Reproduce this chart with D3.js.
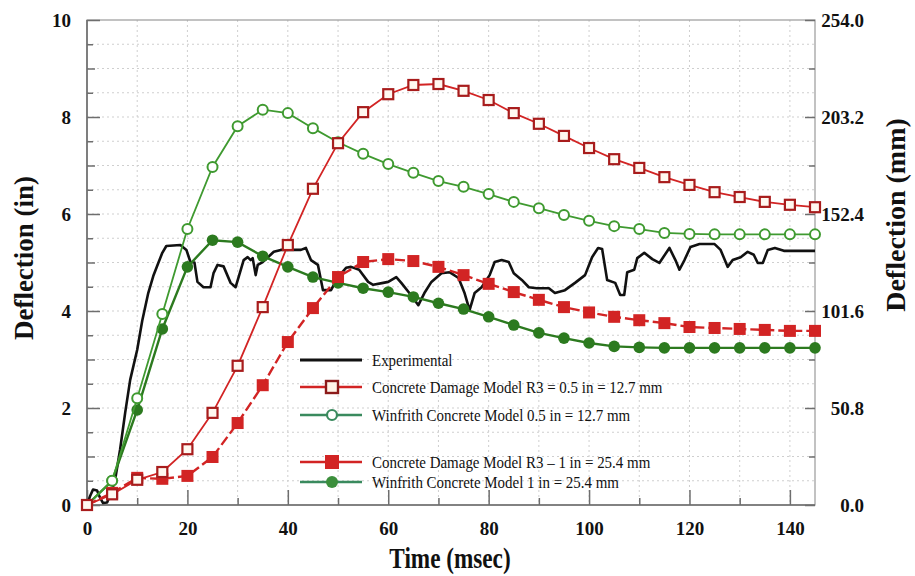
<!DOCTYPE html>
<html>
<head>
<meta charset="utf-8">
<script src="https://cdn.jsdelivr.net/npm/d3@7"></script>
<style>
  html, body { margin: 0; padding: 0; background: #fff; }
  svg { display: block; font-family: "Liberation Serif", "Times New Roman", serif; }
</style>
</head>
<body>
<svg id="chart" width="915" height="576"></svg>
<script>
// Simulation output times (msec)
const simTime = [0, 5, 10, 15, 20, 25, 30, 35, 40, 45, 50, 55, 60, 65, 70, 75, 80, 85, 90, 95,
                 100, 105, 110, 115, 120, 125, 130, 135, 140, 145];

// Mid-span deflection (in) for each model
const cdmHalfInch = [0, 0.22, 0.52, 0.68, 1.15, 1.9, 2.87, 4.08, 5.36, 6.52, 7.46, 8.10, 8.47, 8.66, 8.68,
                     8.54, 8.35, 8.08, 7.86, 7.61, 7.36, 7.13, 6.95, 6.76, 6.60, 6.45, 6.35, 6.25, 6.19, 6.14];
const winHalfInch = [0, 0.5, 2.2, 3.94, 5.69, 6.97, 7.81, 8.15, 8.08, 7.77, 7.48, 7.24, 7.03, 6.85, 6.68,
                     6.56, 6.41, 6.25, 6.12, 5.98, 5.86, 5.75, 5.69, 5.61, 5.59, 5.58, 5.58, 5.58, 5.58, 5.58];
const cdmOneInch  = [0, 0.25, 0.56, 0.54, 0.6, 0.99, 1.69, 2.47, 3.36, 4.06, 4.7, 5.01, 5.07, 5.03, 4.91,
                     4.74, 4.56, 4.39, 4.23, 4.08, 3.97, 3.88, 3.81, 3.75, 3.67, 3.65, 3.63, 3.61, 3.59, 3.59];
const winOneInch  = [0, 0.5, 1.96, 3.63, 4.91, 5.46, 5.42, 5.13, 4.91, 4.70, 4.58, 4.47, 4.39, 4.29, 4.16,
                     4.04, 3.88, 3.71, 3.55, 3.44, 3.34, 3.27, 3.25, 3.24, 3.24, 3.24, 3.24, 3.24, 3.24, 3.24];

// Measured deflection: [time (msec), deflection (in)]
const experimental = [
  [0,0],[0.6,0.18],[1.2,0.32],[2,0.3],[2.6,0.15],[3.2,0.04],[4,0.05],[4.8,0.25],[5.6,0.52],[6.6,1.15],
  [7.6,1.9],[8.6,2.58],[10,3.2],[11,3.8],[12.2,4.37],[13.2,4.72],[14.2,4.99],[15,5.2],[15.8,5.34],[18.6,5.36],
  [19.8,5.26],[20.6,5.01],[21.4,5.0],[22,4.6],[23.2,4.49],[24.6,4.49],[25.2,4.78],[26,4.95],[27.2,4.92],[28.6,4.58],
  [29.6,4.49],[30.2,4.7],[31.2,5.05],[32,5.11],[32.6,5.05],[33,5.09],[33.6,4.74],[34,4.95],[35,5.01],[37.2,5.22],
  [38.6,5.26],[42.6,5.26],[43.6,5.3],[44.6,5.05],[46,4.95],[47,4.43],[48.6,4.43],[50,4.7],[51.6,4.89],[52.6,4.91],
  [54.2,4.85],[56,4.6],[57,4.54],[59,4.58],[60,4.6],[61.6,4.7],[62.6,4.58],[64.2,4.37],[66,4.12],[67.2,4.37],
  [68.6,4.6],[70.6,4.78],[72.2,4.8],[74,4.68],[75.2,4.37],[76.2,4.02],[77.2,4.37],[78.6,4.49],[80.2,4.74],[81.2,5.01],
  [82.6,5.05],[84,5.01],[85,4.78],[86.6,4.64],[88,4.49],[89.6,4.47],[92,4.47],[93.2,4.37],[95.2,4.43],[97.2,4.58],
  [99.2,4.74],[100.6,5.11],[101.8,5.3],[102.6,5.28],[103.6,4.64],[105.2,4.58],[106.2,4.33],[107,4.33],[107.6,4.8],[109,4.85],
  [109.6,5.09],[111,5.2],[112.6,5.07],[114,4.99],[116,5.3],[117.2,5.05],[118,4.85],[119,5.05],[120.2,5.32],[122,5.38],
  [125,5.38],[126.2,5.26],[127.6,4.91],[128.6,5.05],[130.2,5.11],[131.6,5.22],[132.8,5.16],[133.6,4.99],[134.6,4.99],[135.6,5.26],
  [137,5.3],[138.8,5.24],[145,5.24]
];

// Axis tick values
const xTickLabels = [0, 20, 40, 60, 80, 100, 120, 140];
const yTickLabels = [0, 2, 4, 6, 8, 10];
const yMmTickLabels = [0, 50.8, 101.6, 152.4, 203.2, 254.0];

const legendLabels = [
  "Experimental",
  "Concrete Damage Model R3 = 0.5 in = 12.7 mm",
  "Winfrith Concrete Model 0.5 in = 12.7 mm",
  "Concrete Damage Model R3 \u2013 1 in = 25.4 mm",
  "Winfrith Concrete Model 1 in = 25.4 mm"
];

const svg = d3.select("#chart");
const pLeft = 87, pRight = 815, pTop = 20, pBottom = 505;

const x = d3.scaleLinear().domain([0, 145]).range([pLeft, pRight]);
const y = d3.scaleLinear().domain([0, 10]).range([pBottom, pTop]);
const yMm = d3.scaleLinear().domain([0, 254]).range([pBottom, pTop]);

const RED = "#d22424", RED_DARK = "#a81c1c";
const GREEN = "#3f9a30", GREEN_DARK = "#2c7a1f", GREEN_LEG = "#3a8a5e";

// Grid
const grid = svg.append("g").attr("stroke", "#cfcfcf").attr("stroke-width", 1).attr("stroke-dasharray", "2,3");
grid.selectAll("line.v").data(d3.range(10, 145, 10)).join("line").attr("class", "v")
  .attr("x1", d => x(d)).attr("x2", d => x(d)).attr("y1", pTop).attr("y2", pBottom);
grid.selectAll("line.h").data(d3.range(0.5, 10, 0.5)).join("line").attr("class", "h")
  .attr("y1", d => y(d)).attr("y2", d => y(d)).attr("x1", pLeft).attr("x2", pRight);

// Frame
svg.append("rect").attr("x", pLeft).attr("y", pTop).attr("width", pRight - pLeft).attr("height", pBottom - pTop)
  .attr("fill", "none").attr("stroke", "#9a9a9a").attr("stroke-width", 1.2);
svg.append("path").attr("d", `M${pLeft},${pTop}V${pBottom}H${pRight}`)
  .attr("fill", "none").attr("stroke", "#6e6e6e").attr("stroke-width", 1.6);

function styleAxis(g) {
  g.select(".domain").remove();
  g.selectAll(".tick line").attr("stroke", "#6e6e6e").attr("stroke-width", 1.5);
  g.selectAll("text").attr("font-family", "'Liberation Serif', 'Times New Roman', serif")
    .attr("font-weight", "bold").attr("font-size", 19).attr("fill", "#111");
}

// Left axis (in)
svg.append("g").attr("transform", `translate(${pLeft},0)`)
  .call(d3.axisLeft(y).tickValues(d3.range(0.5, 10, 1)).tickSize(-6).tickFormat(""))
  .call(styleAxis);
svg.append("g").attr("transform", `translate(${pLeft},0)`)
  .call(d3.axisLeft(y).tickValues(d3.range(1, 10, 2)).tickSize(-8).tickFormat(""))
  .call(styleAxis);
svg.append("g").attr("transform", `translate(${pLeft},0)`)
  .call(d3.axisLeft(y).tickValues(yTickLabels).tickSize(-13).tickPadding(16).tickFormat(d3.format("d")))
  .call(styleAxis);

// Bottom axis (msec)
svg.append("g").attr("transform", `translate(0,${pBottom})`)
  .call(d3.axisBottom(x).tickValues(d3.range(10, 145, 20)).tickSize(-7).tickFormat(""))
  .call(styleAxis);
svg.append("g").attr("transform", `translate(0,${pBottom})`)
  .call(d3.axisBottom(x).tickValues(xTickLabels).tickSize(-15).tickPadding(17).tickFormat(d3.format("d")))
  .call(styleAxis);

// Right axis (mm)
svg.append("g").attr("transform", `translate(${pRight},0)`)
  .call(d3.axisRight(yMm).tickValues(d3.range(1, 10, 2).map(v => v * 25.4)).tickSize(-6).tickFormat(""))
  .call(styleAxis);
const rAxis = svg.append("g").attr("transform", `translate(${pRight},0)`)
  .call(d3.axisRight(yMm).tickValues(yMmTickLabels).tickSize(-10).tickFormat(d3.format(".1f")))
  .call(styleAxis);
rAxis.selectAll("text").attr("text-anchor", "end").attr("x", 49);

// Axis titles
svg.append("text").attr("transform", "translate(450,568) scale(0.8,1)")
  .attr("text-anchor", "middle").attr("font-weight", "bold").attr("font-size", 29).attr("fill", "#111")
  .text("Time (msec)");
svg.append("text").attr("transform", "translate(33,258) rotate(-90)")
  .attr("text-anchor", "middle").attr("font-weight", "bold").attr("font-size", 27).attr("fill", "#111")
  .text("Deflection (in)");
svg.append("text").attr("transform", "translate(905,215) rotate(-90)")
  .attr("text-anchor", "middle").attr("font-weight", "bold").attr("font-size", 28).attr("fill", "#111")
  .text("Deflection (mm)");

const plot = svg.append("g");
const line = d3.line().x(d => x(d[0])).y(d => y(d[1]));
const pairs = vals => simTime.map((t, i) => [t, vals[i]]);

// Experimental trace
plot.append("path").datum(experimental).attr("d", line)
  .attr("fill", "none").attr("stroke", "#111").attr("stroke-width", 2.6).attr("stroke-linejoin", "round");

// Winfrith, 1 in
plot.append("path").datum(pairs(winOneInch)).attr("d", line)
  .attr("fill", "none").attr("stroke", GREEN_DARK).attr("stroke-width", 2.4);
plot.selectAll("circle.w1").data(pairs(winOneInch)).join("circle").attr("class", "w1")
  .attr("cx", d => x(d[0])).attr("cy", d => y(d[1])).attr("r", 5.8).attr("fill", GREEN_DARK);

// Concrete damage, 1 in
plot.append("path").datum(pairs(cdmOneInch)).attr("d", line)
  .attr("fill", "none").attr("stroke", RED).attr("stroke-width", 2.4).attr("stroke-dasharray", "10,4");
plot.selectAll("rect.c1").data(pairs(cdmOneInch)).join("rect").attr("class", "c1")
  .attr("x", d => x(d[0]) - 6).attr("y", d => y(d[1]) - 6).attr("width", 12).attr("height", 12).attr("fill", RED);

// Winfrith, 0.5 in
plot.append("path").datum(pairs(winHalfInch)).attr("d", line)
  .attr("fill", "none").attr("stroke", GREEN).attr("stroke-width", 1.8);
plot.selectAll("circle.w05").data(pairs(winHalfInch)).join("circle").attr("class", "w05")
  .attr("cx", d => x(d[0])).attr("cy", d => y(d[1])).attr("r", 5)
  .attr("fill", "#fff").attr("stroke", GREEN).attr("stroke-width", 2);

// Concrete damage, 0.5 in
plot.append("path").datum(pairs(cdmHalfInch)).attr("d", line)
  .attr("fill", "none").attr("stroke", RED).attr("stroke-width", 1.8);
plot.selectAll("rect.c05").data(pairs(cdmHalfInch)).join("rect").attr("class", "c05")
  .attr("x", d => x(d[0]) - 5).attr("y", d => y(d[1]) - 5).attr("width", 10).attr("height", 10)
  .attr("fill", "#fff8f0").attr("stroke", RED_DARK).attr("stroke-width", 2.2);

// Legend
const legendRows = [360, 387, 415, 462, 482];
const leg = svg.append("g");
legendLabels.forEach((label, i) => {
  const ly = legendRows[i];
  const g = leg.append("g");
  const color = i === 0 ? "#111" : (i === 1 || i === 3) ? RED : GREEN_LEG;
  g.append("line").attr("x1", 300).attr("x2", 362).attr("y1", ly).attr("y2", ly)
    .attr("stroke", color).attr("stroke-width", i === 0 ? 3.2 : 2.6);
  if (i === 1) {
    g.append("rect").attr("x", 326).attr("y", ly - 6).attr("width", 12).attr("height", 12)
      .attr("fill", "#fff4e8").attr("stroke", "#8c1a1a").attr("stroke-width", 2.4);
  } else if (i === 2) {
    g.append("circle").attr("cx", 332).attr("cy", ly).attr("r", 5)
      .attr("fill", "#fff").attr("stroke", GREEN_LEG).attr("stroke-width", 2.2);
  } else if (i === 3) {
    g.append("rect").attr("x", 325).attr("y", ly - 7).attr("width", 14).attr("height", 14).attr("fill", RED);
  } else if (i === 4) {
    g.append("circle").attr("cx", 332).attr("cy", ly).attr("r", 6).attr("fill", "#3c8f3c");
  }
  g.append("text").attr("transform", `translate(372,${ly}) scale(0.88,1)`)
    .attr("dy", "0.35em").attr("font-size", 17).attr("fill", "#111").text(label);
});
</script>
</body>
</html>
